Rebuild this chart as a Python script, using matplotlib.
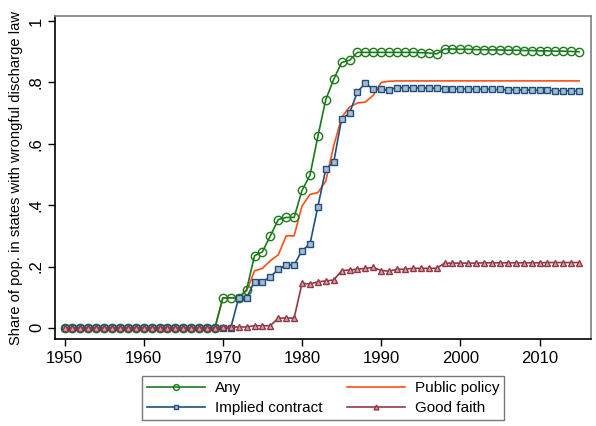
import numpy as np
import matplotlib
matplotlib.use('Agg')
import matplotlib.pyplot as plt

plt.rcParams['font.family'] = ['Liberation Sans', 'DejaVu Sans']

years = list(range(1950, 2016))

# values before 1970 are all zero
pre = [0.0] * 20  # 1950-1969

any_law = pre + [
    0.098, 0.098, 0.098, 0.125, 0.235, 0.248, 0.300, 0.353, 0.360, 0.360,   # 1970-79
    0.448, 0.497, 0.624, 0.744, 0.810, 0.865, 0.872, 0.898, 0.898, 0.898,   # 1980-89
    0.898, 0.898, 0.898, 0.898, 0.898, 0.897, 0.896, 0.893, 0.909, 0.909,   # 1990-99
    0.908, 0.908, 0.907, 0.907, 0.906, 0.906, 0.905, 0.905, 0.904, 0.904,   # 2000-09
    0.903, 0.903, 0.902, 0.902, 0.901, 0.900]                              # 2010-15

implied = pre + [
    0.000, 0.000, 0.098, 0.098, 0.151, 0.151, 0.166, 0.191, 0.205, 0.205,
    0.252, 0.273, 0.395, 0.518, 0.540, 0.681, 0.700, 0.769, 0.798, 0.777,
    0.777, 0.776, 0.783, 0.783, 0.782, 0.782, 0.781, 0.781, 0.780, 0.780,
    0.779, 0.779, 0.778, 0.778, 0.777, 0.777, 0.776, 0.776, 0.775, 0.775,
    0.774, 0.774, 0.773, 0.773, 0.772, 0.771]

public = pre + [
    0.098, 0.098, 0.100, 0.120, 0.186, 0.194, 0.219, 0.238, 0.300, 0.300,
    0.397, 0.435, 0.441, 0.478, 0.593, 0.686, 0.720, 0.733, 0.736, 0.758,
    0.800, 0.804, 0.805, 0.805, 0.805, 0.805, 0.805, 0.805, 0.805, 0.805,
    0.805, 0.805, 0.805, 0.805, 0.805, 0.805, 0.805, 0.805, 0.805, 0.805,
    0.805, 0.805, 0.805, 0.805, 0.805, 0.805]

good_faith = pre + [
    0.002, 0.002, 0.003, 0.003, 0.007, 0.007, 0.007, 0.032, 0.032, 0.032,
    0.145, 0.143, 0.150, 0.153, 0.156, 0.186, 0.189, 0.191, 0.194, 0.197,
    0.187, 0.185, 0.191, 0.191, 0.194, 0.194, 0.194, 0.194, 0.211, 0.211,
    0.211, 0.211, 0.211, 0.212, 0.212, 0.212, 0.212, 0.212, 0.212, 0.212,
    0.212, 0.213, 0.213, 0.213, 0.213, 0.213]

c_any, c_imp, c_pub, c_gf = '#1a7a1a', '#1f4f7f', '#ff4f14', '#923845'

fig = plt.figure(figsize=(5.96, 4.26), dpi=100)
ax = fig.add_axes([0.0923, 0.2042, 0.8993, 0.7582])

ax.plot(years, any_law, color=c_any, lw=1.2, marker='o', ms=6,
        mfc='none', mec=c_any, mew=1.0, label='Any', zorder=3)
ax.plot(years, implied, color=c_imp, lw=1.2, marker='s', ms=4.5,
        mfc='#a9bccd', mec=c_imp, mew=1.0, label='Implied contract', zorder=4)
ax.plot(years, public, color=c_pub, lw=1.2, label='Public policy', zorder=2)
ax.plot(years, good_faith, color=c_gf, lw=1.2, marker='^', ms=5,
        mfc='#d9a0a8', mec=c_gf, mew=1.0, label='Good faith', zorder=5)

ax.set_xlim(1948.8, 2016.5)
ax.set_ylim(-0.0363, 1.0165)
ax.set_xticks([1950, 1960, 1970, 1980, 1990, 2000, 2010])
ax.set_yticks([0, 0.2, 0.4, 0.6, 0.8, 1.0])
ax.set_yticklabels(['0', '.2', '.4', '.6', '.8', '1'], rotation=90, va='center')
ax.tick_params(labelsize=12, length=5, width=1, colors='black')
ax.tick_params(axis='y', pad=3)
ax.set_ylabel('Share of pop. in states with wrongful discharge law', fontsize=10.6, labelpad=4)

for s in ['left', 'bottom']:
    ax.spines[s].set_color('black')
    ax.spines[s].set_linewidth(1.2)
for s in ['top', 'right']:
    ax.spines[s].set_color('#7f7f7f')
    ax.spines[s].set_linewidth(1.2)

leg = fig.legend(loc='center', bbox_to_anchor=(0.542, 0.0657), ncol=2,
                 fontsize=11, frameon=True, fancybox=False, edgecolor='#555555',
                 handlelength=3.8, columnspacing=1.6, handletextpad=0.65,
                 borderpad=0.3, labelspacing=0.4, markerscale=0.7)
leg.get_frame().set_linewidth(1.0)

fig.savefig('out.png', dpi=100)
